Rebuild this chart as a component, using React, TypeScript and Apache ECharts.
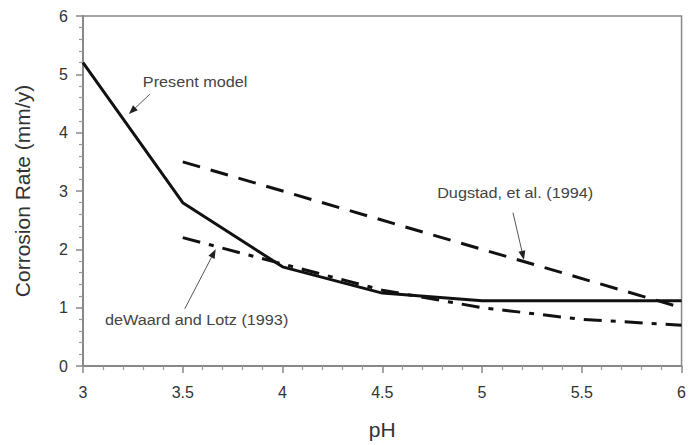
import React, { useEffect, useRef } from "react";
import * as echarts from "echarts";

const pHValues = [3, 3.5, 4, 4.5, 5, 5.5, 6];
const presentModel = [5.2, 2.8, 1.7, 1.25, 1.12, 1.12, 1.12];
const dugstadX = [3.5, 6];
const dugstad = [3.5, 1.0];
const dewaardX = [3.5, 4, 4.5, 5, 5.5, 6];
const dewaard = [2.2, 1.75, 1.3, 1.0, 0.8, 0.7];

const annotations = [
  { text: "Present model", at: [3.3, 4.88], tail: [3.335, 4.66], head: [3.23, 4.32] },
  { text: "Dugstad, et al. (1994)", at: [4.775, 2.97], tail: [5.155, 2.63], head: [5.21, 1.82] },
  { text: "deWaard and Lotz (1993)", at: [3.11, 0.8], tail: [3.51, 0.98], head: [3.665, 2.0] },
];

const FONT = "Liberation Sans, Arial, sans-serif";

export default function App() {
  const ref = useRef<HTMLDivElement>(null);
  useEffect(() => {
    const chart = echarts.init(ref.current!, null, { renderer: "svg" });
    const zip = (xs: number[], ys: number[]) => xs.map((x, i) => [x, ys[i]]);
    chart.setOption({
      animation: false,
      backgroundColor: "#fff",
      grid: { left: 83, right: 6, top: 16, bottom: 75, show: true, borderColor: "#888", borderWidth: 1.5 },
      xAxis: {
        type: "value", min: 3, max: 6, interval: 0.5,
        name: "pH", nameLocation: "middle", nameGap: 53,
        nameTextStyle: { fontFamily: FONT, fontSize: 21, color: "#333" },
        axisLine: { lineStyle: { color: "#888", width: 2 } },
        axisTick: { length: 7, lineStyle: { color: "#888", width: 1.5 } },
        minorTick: { show: true, splitNumber: 5, length: 4, lineStyle: { color: "#999", width: 1.2 } },
        axisLabel: { fontFamily: FONT, fontSize: 16, color: "#333", margin: 18 },
        splitLine: { show: false },
      },
      yAxis: {
        type: "value", min: 0, max: 6, interval: 1,
        name: "Corrosion Rate (mm/y)", nameLocation: "middle", nameGap: 50,
        nameTextStyle: { fontFamily: FONT, fontSize: 21, color: "#333" },
        axisLine: { show: true, lineStyle: { color: "#888", width: 2 } },
        axisTick: { show: true, length: 7, lineStyle: { color: "#888", width: 1.5 } },
        minorTick: { show: true, splitNumber: 5, length: 4, lineStyle: { color: "#999", width: 1.2 } },
        axisLabel: { fontFamily: FONT, fontSize: 16, color: "#333", margin: 15 },
        splitLine: { show: false },
      },
      series: [
        { type: "line", data: zip(pHValues, presentModel), symbol: "none", lineStyle: { color: "#111", width: 3 } },
        { type: "line", data: zip(dugstadX, dugstad), symbol: "none", lineStyle: { color: "#111", width: 3, type: [18, 11] } },
        { type: "line", data: zip(dewaardX, dewaard), symbol: "none", lineStyle: { color: "#111", width: 3, type: [18, 9, 5, 9] } },
      ],
    });
    const px = (p: number[]) => chart.convertToPixel({ gridIndex: 0 }, p) as number[];
    const elements: any[] = [];
    annotations.forEach((a) => {
      const t = px(a.at);
      const s = px(a.tail);
      const h = px(a.head);
      elements.push({
        type: "text", x: t[0], y: t[1], scaleX: 1.12,
        style: { text: a.text, fontFamily: FONT, fontSize: 14.5, fill: "#444", verticalAlign: "middle" },
      });
      const dx = h[0] - s[0], dy = h[1] - s[1];
      const len = Math.sqrt(dx * dx + dy * dy);
      const ux = dx / len, uy = dy / len;
      const bx = h[0] - ux * 9, by = h[1] - uy * 9;
      elements.push({ type: "line", shape: { x1: s[0], y1: s[1], x2: bx, y2: by }, style: { stroke: "#555", lineWidth: 1 } });
      elements.push({
        type: "polygon",
        shape: { points: [[h[0], h[1]], [bx - uy * 3.5, by + ux * 3.5], [bx + uy * 3.5, by - ux * 3.5]] },
        style: { fill: "#222" },
      });
    });
    chart.setOption({ graphic: elements });
    return () => chart.dispose();
  }, []);
  return <div ref={ref} style={{ width: 689, height: 445, position: "absolute", left: 0, top: 0 }} />;
}
